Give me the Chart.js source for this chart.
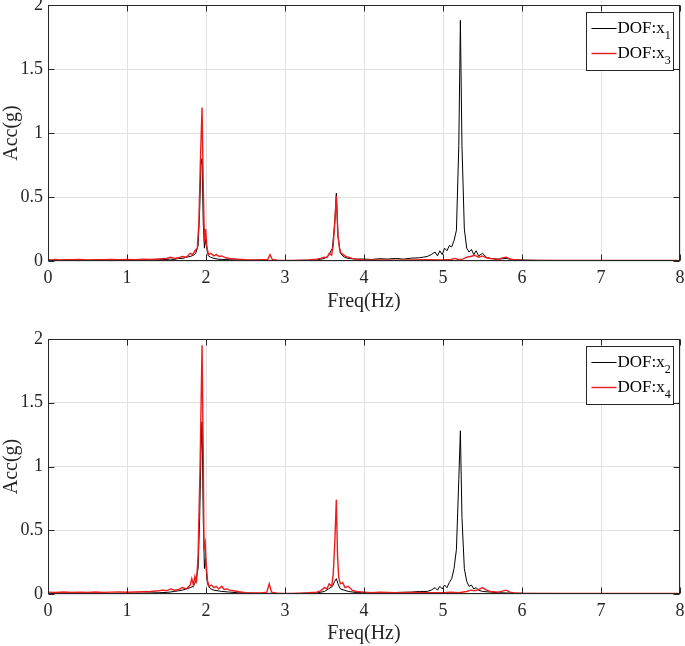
<!DOCTYPE html>
<html>
<head>
<meta charset="utf-8">
<title>Acc spectra</title>
<script src="https://cdn.jsdelivr.net/npm/chart.js"></script>
<style>
  body { margin: 0; background: #fff; }
  canvas { display: block; }
</style>
</head>
<body>
<canvas id="topChart" width="685" height="323"></canvas>
<canvas id="bottomChart" width="685" height="323"></canvas>

<script>
// [freq (Hz), acc (g)]
const x1 = [[0,0.005],[0.1,0.004],[0.2,0.005],[0.3,0.004],[0.4,0.006],[0.5,0.005],[0.6,0.004],[0.7,0.006],[0.8,0.005],[0.9,0.006],
  [1.0,0.005],[1.1,0.006],[1.2,0.007],[1.3,0.008],[1.4,0.01],[1.5,0.012],[1.55,0.015],[1.6,0.012],[1.65,0.02],[1.7,0.018],
  [1.75,0.03],[1.8,0.035],[1.84,0.045],[1.87,0.06],[1.9,0.12],[1.92,0.4],[1.935,0.75],[1.95,0.8],[1.965,0.3],[1.98,0.1],
  [1.995,0.17],[2.01,0.1],[2.03,0.04],[2.06,0.03],[2.1,0.02],[2.15,0.015],[2.2,0.012],[2.3,0.01],[2.4,0.008],[2.5,0.007],
  [2.6,0.006],[2.7,0.005],[2.8,0.005],[2.9,0.004],[3.0,0.004],[3.1,0.004],[3.2,0.005],[3.3,0.006],[3.4,0.008],[3.5,0.02],
  [3.55,0.04],[3.6,0.1],[3.63,0.3],[3.65,0.53],[3.67,0.2],[3.7,0.06],[3.75,0.03],[3.8,0.02],[3.9,0.015],[4.0,0.015],
  [4.1,0.012],[4.2,0.018],[4.3,0.015],[4.4,0.02],[4.5,0.015],[4.6,0.022],[4.7,0.025],[4.75,0.03],[4.8,0.035],[4.85,0.05],
  [4.9,0.07],[4.93,0.04],[4.96,0.08],[4.99,0.05],[5.02,0.1],[5.05,0.08],[5.08,0.12],[5.11,0.11],[5.14,0.16],[5.17,0.24],
  [5.2,0.9],[5.22,1.88],[5.24,0.9],[5.27,0.25],[5.3,0.1],[5.33,0.07],[5.36,0.09],[5.39,0.05],[5.42,0.08],[5.45,0.04],
  [5.5,0.06],[5.55,0.03],[5.6,0.02],[5.7,0.015],[5.8,0.02],[5.9,0.01],[6.0,0.008],[6.2,0.005],[6.5,0.004],[7.0,0.004],
  [7.5,0.003],[8.0,0.003]];

const x3 = [[0,0.01],[0.05,0.008],[0.1,0.012],[0.15,0.009],[0.2,0.011],[0.3,0.01],[0.4,0.012],[0.5,0.009],[0.6,0.011],[0.7,0.01],
  [0.8,0.012],[0.9,0.01],[1.0,0.013],[1.1,0.011],[1.2,0.014],[1.3,0.012],[1.4,0.016],[1.5,0.02],[1.55,0.03],[1.6,0.02],
  [1.65,0.025],[1.7,0.035],[1.75,0.03],[1.8,0.06],[1.83,0.05],[1.86,0.08],[1.89,0.1],[1.91,0.3],[1.93,0.8],[1.95,1.2],
  [1.965,0.6],[1.98,0.15],[1.995,0.25],[2.01,0.12],[2.03,0.05],[2.06,0.06],[2.1,0.04],[2.13,0.05],[2.17,0.035],[2.2,0.04],
  [2.25,0.025],[2.3,0.02],[2.4,0.015],[2.5,0.01],[2.6,0.008],[2.7,0.01],[2.78,0.012],[2.81,0.05],[2.84,0.012],[2.9,0.006],
  [3.0,0.005],[3.1,0.005],[3.2,0.006],[3.3,0.008],[3.4,0.015],[3.45,0.02],[3.5,0.03],[3.53,0.025],[3.56,0.06],[3.59,0.045],
  [3.61,0.12],[3.63,0.3],[3.65,0.51],[3.67,0.2],[3.69,0.1],[3.71,0.06],[3.74,0.05],[3.77,0.035],[3.8,0.03],[3.85,0.02],
  [3.9,0.015],[4.0,0.01],[4.2,0.008],[4.4,0.007],[4.6,0.008],[4.8,0.01],[5.0,0.008],[5.1,0.012],[5.15,0.02],[5.2,0.01],
  [5.25,0.015],[5.3,0.03],[5.35,0.035],[5.4,0.045],[5.45,0.03],[5.5,0.04],[5.55,0.025],[5.6,0.02],[5.65,0.015],[5.7,0.01],
  [5.75,0.025],[5.8,0.03],[5.85,0.015],[5.9,0.01],[6.0,0.006],[6.5,0.005],[7.0,0.004],[7.5,0.004],[8.0,0.004]];

const x2 = [[0,0.004],[0.2,0.005],[0.4,0.004],[0.6,0.005],[0.8,0.005],[1.0,0.006],[1.2,0.007],[1.4,0.01],[1.5,0.012],[1.6,0.02],
  [1.65,0.025],[1.7,0.03],[1.75,0.04],[1.8,0.05],[1.84,0.06],[1.87,0.1],[1.9,0.2],[1.92,0.6],[1.935,1.1],[1.95,1.35],
  [1.965,0.6],[1.98,0.2],[1.995,0.28],[2.01,0.12],[2.03,0.06],[2.06,0.04],[2.1,0.03],[2.2,0.02],[2.3,0.015],[2.4,0.01],
  [2.6,0.006],[2.8,0.005],[3.0,0.004],[3.2,0.005],[3.4,0.008],[3.5,0.02],[3.55,0.04],[3.6,0.06],[3.63,0.1],[3.65,0.12],
  [3.67,0.08],[3.7,0.04],[3.8,0.02],[3.9,0.012],[4.0,0.01],[4.2,0.01],[4.4,0.012],[4.6,0.015],[4.7,0.02],[4.8,0.02],
  [4.85,0.03],[4.9,0.05],[4.93,0.03],[4.96,0.06],[4.99,0.04],[5.02,0.07],[5.05,0.05],[5.08,0.09],[5.11,0.12],[5.14,0.2],
  [5.17,0.35],[5.2,0.9],[5.22,1.28],[5.24,0.6],[5.27,0.2],[5.3,0.1],[5.33,0.06],[5.36,0.07],[5.39,0.04],[5.42,0.05],
  [5.45,0.03],[5.5,0.02],[5.6,0.015],[5.7,0.01],[5.8,0.008],[6.0,0.005],[6.5,0.004],[7.0,0.004],[7.5,0.003],[8.0,0.003]];

const x4 = [[0,0.015],[0.1,0.012],[0.2,0.016],[0.3,0.013],[0.4,0.015],[0.5,0.012],[0.6,0.016],[0.7,0.013],[0.8,0.015],[0.9,0.017],
  [1.0,0.014],[1.1,0.016],[1.2,0.018],[1.3,0.02],[1.4,0.025],[1.45,0.03],[1.5,0.025],[1.55,0.04],[1.6,0.03],[1.65,0.035],
  [1.7,0.05],[1.75,0.04],[1.8,0.07],[1.82,0.12],[1.84,0.07],[1.86,0.14],[1.88,0.1],[1.9,0.3],[1.925,1.0],[1.95,1.95],
  [1.965,1.1],[1.975,0.35],[1.99,0.4],[2.0,0.25],[2.02,0.1],[2.04,0.06],[2.07,0.07],[2.1,0.05],[2.13,0.06],[2.16,0.04],
  [2.2,0.06],[2.23,0.035],[2.27,0.04],[2.3,0.03],[2.35,0.025],[2.4,0.02],[2.5,0.01],[2.6,0.008],[2.7,0.008],[2.77,0.015],
  [2.8,0.08],[2.83,0.015],[2.9,0.006],[3.0,0.005],[3.1,0.005],[3.2,0.007],[3.3,0.01],[3.4,0.015],[3.45,0.025],[3.5,0.05],
  [3.53,0.04],[3.56,0.08],[3.59,0.06],[3.61,0.15],[3.63,0.4],[3.65,0.74],[3.665,0.3],[3.68,0.13],[3.7,0.08],[3.73,0.09],
  [3.76,0.05],[3.8,0.06],[3.85,0.03],[3.9,0.02],[4.0,0.015],[4.1,0.01],[4.2,0.015],[4.4,0.01],[4.6,0.012],[4.8,0.01],
  [5.0,0.01],[5.1,0.015],[5.2,0.01],[5.3,0.02],[5.35,0.03],[5.4,0.025],[5.45,0.035],[5.5,0.05],[5.55,0.03],[5.6,0.02],
  [5.7,0.015],[5.8,0.03],[5.85,0.015],[5.9,0.008],[6.0,0.006],[6.5,0.005],[7.0,0.004],[7.5,0.004],[8.0,0.004]];

const xTicks = [0, 1, 2, 3, 4, 5, 6, 7, 8];
const yTicks = [0, 0.5, 1, 1.5, 2];

const FONT = '"Liberation Serif", "Times New Roman", serif';
const BLACK = '#000000';
const RED = '#ee1c1c';

// MATLAB-like box, inward ticks and legend with subscripts
const frame = {
  id: 'frame',
  afterDraw(chart, args, opts) {
    const { ctx, chartArea: a, scales } = chart;
    const L = Math.round(a.left) + 0.5, R = Math.round(a.right) - 0.5;
    const T = Math.round(a.top) + 0.5, B = Math.round(a.bottom) - 0.5;
    ctx.save();
    ctx.strokeStyle = '#262626';
    ctx.lineWidth = 1;
    ctx.beginPath();
    xTicks.forEach(v => {
      const px = Math.round(scales.x.getPixelForValue(v)) + 0.5;
      ctx.moveTo(px, B); ctx.lineTo(px, B - 6);
      ctx.moveTo(px, T); ctx.lineTo(px, T + 6);
    });
    yTicks.forEach(v => {
      const py = Math.round(scales.y.getPixelForValue(v)) + 0.5;
      ctx.moveTo(L, py); ctx.lineTo(L + 6, py);
      ctx.moveTo(R, py); ctx.lineTo(R - 6, py);
    });
    ctx.stroke();
    ctx.strokeRect(L, T, R - L, B - T);

    // legend
    const bw = 87, bh = 58;
    const bx = Math.round(a.right - 7 - bw) + 0.5;
    const by = Math.round(a.top + 7) + 0.5;
    ctx.fillStyle = '#fff';
    ctx.fillRect(bx, by, bw, bh);
    ctx.strokeStyle = '#262626';
    ctx.strokeRect(bx, by, bw, bh);
    opts.entries.forEach((e, i) => {
      const yy = by + 16 + i * 25;
      ctx.strokeStyle = e.color;
      ctx.lineWidth = e.width;
      ctx.beginPath();
      ctx.moveTo(bx + 5, yy); ctx.lineTo(bx + 30, yy);
      ctx.stroke();
      ctx.fillStyle = '#000';
      ctx.textBaseline = 'middle';
      ctx.textAlign = 'left';
      ctx.font = '17px ' + FONT;
      ctx.fillText(e.label, bx + 31, yy);
      const w = ctx.measureText(e.label).width;
      ctx.font = '12px ' + FONT;
      ctx.fillText(e.sub, bx + 31 + w, yy + 7);
    });
    ctx.restore();
  }
};

function makeChart(id, black, red, subs, padTop, xHeight, titlePad) {
  return new Chart(document.getElementById(id), {
    type: 'line',
    data: {
      datasets: [
        { data: black.map(p => ({ x: p[0], y: p[1] })), borderColor: BLACK, borderWidth: 1, order: 1 },
        { data: red.map(p => ({ x: p[0], y: p[1] })), borderColor: RED, borderWidth: 1.4, order: 0 }
      ]
    },
    options: {
      responsive: false,
      animation: false,
      devicePixelRatio: 1,
      layout: { padding: { top: padTop, right: 5, left: 0, bottom: 0 } },
      elements: { point: { radius: 0 }, line: { tension: 0 } },
      plugins: {
        legend: { display: false },
        tooltip: { enabled: false },
        frame: { entries: [
          { label: 'DOF:x', sub: subs[0], color: BLACK, width: 1 },
          { label: 'DOF:x', sub: subs[1], color: RED, width: 1.4 }
        ] }
      },
      scales: {
        x: {
          type: 'linear', min: 0, max: 8,
          afterBuildTicks: s => { s.ticks = xTicks.map(v => ({ value: v })); },
          afterFit: s => { s.height = xHeight; s.paddingLeft = 0; s.paddingRight = 0; },
          grid: { color: '#e2e2e2', drawTicks: false },
          border: { display: false },
          ticks: { color: '#262626', padding: 6, maxRotation: 0, callback: v => String(v),
                   font: { family: FONT, size: 18 } },
          title: { display: true, text: 'Freq(Hz)', color: '#262626', padding: { top: titlePad, bottom: titlePad },
                   font: { family: FONT, size: 20 } }
        },
        y: {
          min: 0, max: 2,
          afterBuildTicks: s => { s.ticks = yTicks.map(v => ({ value: v })); },
          afterFit: s => { s.width = 48; s.paddingTop = 0; s.paddingBottom = 0; },
          grid: { color: '#e2e2e2', drawTicks: false },
          border: { display: false },
          ticks: { color: '#262626', padding: 5, callback: v => String(v),
                   font: { family: FONT, size: 18 } },
          title: { display: true, text: 'Acc(g)', color: '#262626', padding: 0,
                   font: { family: FONT, size: 20 } }
        }
      }
    },
    plugins: [frame]
  });
}

makeChart('topChart', x1, x3, ['1', '3'], 5, 62, 9);
makeChart('bottomChart', x2, x4, ['2', '4'], 16, 52, 0);
</script>
</body>
</html>
